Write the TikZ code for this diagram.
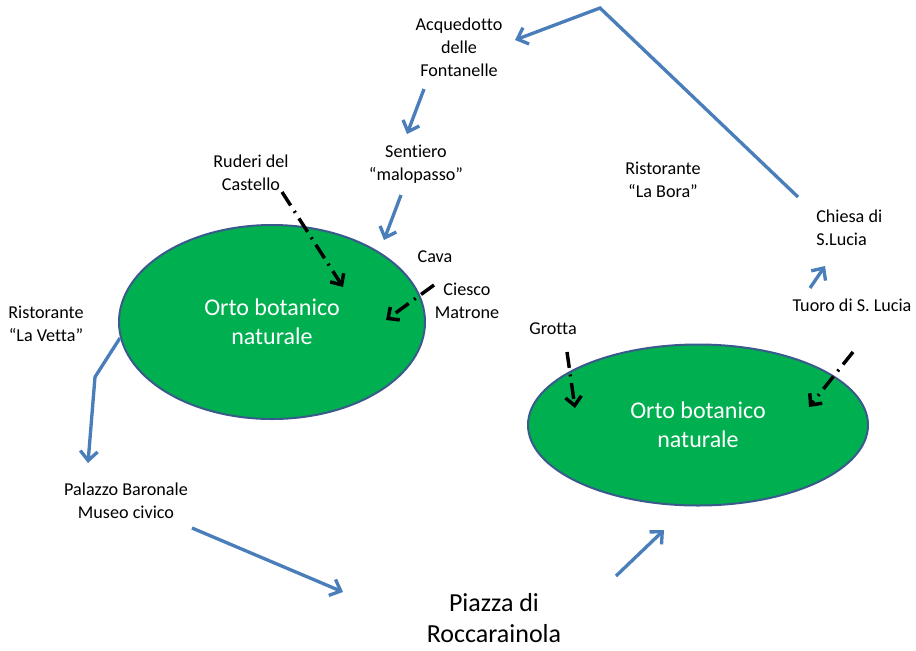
\documentclass[tikz,border=0pt]{standalone}
\usepackage{fontspec}
\setmainfont{Carlito}[Ligatures=NoCommon]
\usetikzlibrary{arrows.meta,shapes.geometric}
\definecolor{walkblue}{HTML}{4A7EBB}
\definecolor{ortogreen}{HTML}{00B050}
\definecolor{ortoline}{HTML}{3A5A8C}

\begin{document}
\begin{tikzpicture}[x=0.75pt, y=-0.75pt,
    lbl/.style={align=center, inner sep=0pt, font=\fontsize{13.6}{17.3}\selectfont},
    orto/.style={ellipse, draw=ortoline, line width=1.5pt, fill=ortogreen, text=white,
        align=center, inner sep=0pt, font=\fontsize{18}{21.75}\selectfont},
    walk/.style={draw=walkblue, line width=2.5pt, -{Straight Barb[length=7pt, width=13pt]}},
    site/.style={draw=black, line width=2.6pt, dash pattern=on 12pt off 5pt on 1.5pt off 5pt,
        -{Straight Barb[length=6.5pt, width=12pt]}}]
        \useasboundingbox (0,0) rectangle (916,650);
        % the two gardens
        \node[orto, minimum width=229.5pt, minimum height=145.5pt] (orto1) at (272,322) {Orto botanico\\naturale};
        \node[orto, minimum width=255pt, minimum height=120.75pt] (orto2) at (698,425) {Orto botanico\\naturale};
        % places
        \node[lbl] (acq) at (459,47) {Acquedotto\\delle\\Fontanelle};
        \node[lbl] (sent) at (416,164.5) {Sentiero\\“malopasso”};
        \node[lbl] (rud) at (251,172.5) {Ruderi del\\Castello};
        \node[lbl] (cava) at (435,257) {Cava};
        \node[lbl] (ciesco) at (467,300.5) {Ciesco\\Matrone};
        \node[lbl] (vetta) at (46,324) {Ristorante\\“La Vetta”};
        \node[lbl] (palazzo) at (126,501) {Palazzo Baronale\\Museo civico};
        \node[lbl, font=\fontsize{19.5}{23.3}\selectfont] (piazza) at (494,618) {Piazza di\\Roccarainola};
        \node[lbl] (grotta) at (553,329) {Grotta};
        \node[lbl] (bora) at (663,180) {Ristorante\\“La Bora”};
        \node[lbl, align=left, anchor=west] (chiesa) at (816,228) {Chiesa di\\S.Lucia};
        \node[lbl] (tuoro) at (852,305) {Tuoro di S. Lucia};
        % ends of the paths
        \coordinate (chiesa-out) at (798,197); \coordinate (peak) at (600,8); \coordinate (acq-in) at (515,40);
        \coordinate (acq-out) at (424,89); \coordinate (sent-in) at (407,134);
        \coordinate (sent-out) at (401,195); \coordinate (orto1-top) at (384,240);
        \coordinate (orto1-left) at (120,338); \coordinate (bend) at (95,377); \coordinate (palazzo-in) at (88,463);
        \coordinate (palazzo-out) at (192,528); \coordinate (piazza-in) at (343,592);
        \coordinate (piazza-out) at (616,576); \coordinate (orto2-in) at (664,530);
        \coordinate (tuoro-out) at (810,288); \coordinate (chiesa-in) at (825,266);
        \coordinate (rud-out) at (282,192); \coordinate (rud-in) at (343,287);
        \coordinate (ciesco-out) at (434,285); \coordinate (ciesco-in) at (386,320);
        \coordinate (grotta-out) at (567,352); \coordinate (grotta-in) at (575,408);
        \coordinate (tuoro-dash) at (853,352); \coordinate (tuoro-in) at (809,407);
        % walking route
        \draw[walk] (chiesa-out) -- (peak) -- (acq-in);
        \draw[walk] (acq-out) -- (sent-in);
        \draw[walk] (sent-out) -- (orto1-top);
        \draw[walk] (orto1-left) -- (bend) -- (palazzo-in);
        \draw[walk] (palazzo-out) -- (piazza-in);
        \draw[walk] (piazza-out) -- (orto2-in);
        \draw[walk] (tuoro-out) -- (chiesa-in);
        % sights
        \draw[site] (rud-out) -- (rud-in);
        \draw[site] (ciesco-out) -- (ciesco-in);
        \draw[site] (grotta-out) -- (grotta-in);
        \draw[site] (tuoro-dash) -- (tuoro-in);
    \end{tikzpicture}
\end{document}
